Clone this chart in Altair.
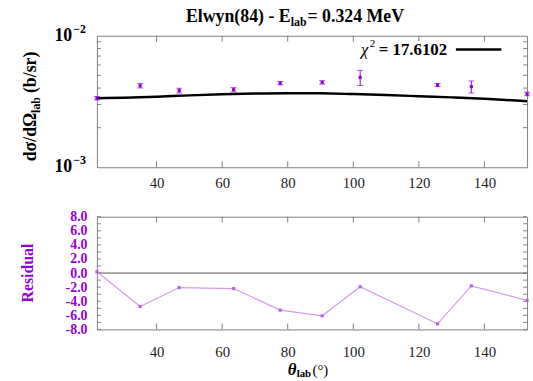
import altair as alt
import pandas as pd

# ---------------- data ----------------
theta = [21.8, 35.0, 46.9, 63.5, 77.7, 90.5, 102.1, 125.7, 136.0, 153.0]
xsec = [3.35e-3, 4.17e-3, 3.83e-3, 3.89e-3, 4.36e-3, 4.42e-3, 4.82e-3, 4.22e-3, 4.10e-3, 3.61e-3]
xerr = [0.10e-3, 0.16e-3, 0.16e-3, 0.14e-3, 0.13e-3, 0.13e-3, 0.63e-3, 0.11e-3, 0.43e-3, 0.11e-3]
resid = [0.2, -4.74, -2.06, -2.2, -5.26, -6.07, -1.95, -7.2, -1.82, -3.88]

curve_theta = [21.8, 30, 40, 50, 60, 70, 80, 90, 100, 110, 120, 130, 140, 153]
curve_xsec = [3.35e-3, 3.38e-3, 3.44e-3, 3.52e-3, 3.59e-3, 3.64e-3, 3.66e-3, 3.65e-3,
              3.60e-3, 3.54e-3, 3.47e-3, 3.40e-3, 3.32e-3, 3.18e-3]

x_ticks = [40, 60, 80, 100, 120, 140]
y_minor = [2e-3, 3e-3, 4e-3, 5e-3, 6e-3, 7e-3, 8e-3, 9e-3]
y_major = [1e-2, 1e-3]
y_major_sup = ["\u22122", "\u22123"]
r_labels = [-8, -6, -4, -2, 0, 2, 4, 6, 8]
r_ticks = list(range(-8, 9))

chi2_text = "= 17.6102"

# ---------------- style ----------------
FONT = "Liberation Serif, Times New Roman, serif"
PURPLE = "#9400D3"
W, H1, H2 = 435, 133, 114
XDOM = [21.8, 153.0]

df = pd.DataFrame({"theta": theta, "xs": xsec, "err": xerr, "res": resid})
df["lo"] = df["xs"] - df["err"]
df["hi"] = df["xs"] + df["err"]
cdf = pd.DataFrame({"theta": curve_theta, "xs": curve_xsec})

xscale = alt.Scale(domain=XDOM, nice=False, zero=False)
yscale = alt.Scale(type="log", domain=[1e-3, 1e-2], nice=False)
rscale = alt.Scale(domain=[-8, 8], nice=False, zero=False)


def xaxis(pad):
    return alt.Axis(values=x_ticks, labelFont=FONT, labelFontSize=15, labelColor="#222",
                    ticks=False, tickSize=0, domain=False, grid=False,
                    labelPadding=pad, labelFlush=False, labelOverlap=False, title=None)


def X(field, pad):
    return alt.X(field, type="quantitative", scale=xscale, axis=xaxis(pad), title=None)


def one(**kw):
    return alt.Chart(pd.DataFrame({"k": [0], **{k: [v] for k, v in kw.items()}}))


def label(text, x, y, size, weight="normal", style="normal", align="left", angle=0,
          color="black"):
    return one(t=text).mark_text(
        font=FONT, fontSize=size, fontWeight=weight, fontStyle=style, align=align,
        baseline="middle", angle=angle, color=color
    ).encode(text="t:N", x=alt.value(x), y=alt.value(y))


# ---------------- top panel ----------------
anchor = one().mark_rect(color="white").encode(
    x=alt.value(-97), x2=alt.value(-96), y=alt.value(-33), y2=alt.value(-32))

curve = alt.Chart(cdf).mark_line(color="black", strokeWidth=2.5, interpolate="monotone").encode(
    x=X("theta", 8), y=alt.Y("xs:Q", scale=yscale, axis=None))

bars = alt.Chart(df).mark_rule(color=PURPLE, strokeWidth=1).encode(
    x=X("theta", 8), y=alt.Y("lo:Q", scale=yscale, axis=None), y2="hi:Q")
cap_lo = alt.Chart(df).mark_tick(color=PURPLE, size=6, thickness=1, orient="horizontal").encode(
    x=X("theta", 8), y=alt.Y("lo:Q", scale=yscale, axis=None))
cap_hi = alt.Chart(df).mark_tick(color=PURPLE, size=6, thickness=1, orient="horizontal").encode(
    x=X("theta", 8), y=alt.Y("hi:Q", scale=yscale, axis=None))
pts = alt.Chart(df).mark_square(color=PURPLE, size=10, opacity=1).encode(
    x=X("theta", 8), y=alt.Y("xs:Q", scale=yscale, axis=None))

ydf = pd.DataFrame({"v": y_minor})
yt_l = alt.Chart(ydf).mark_rule(color="#7f7f7f").encode(
    y=alt.Y("v:Q", scale=yscale, axis=None), x=alt.value(0), x2=alt.value(4))
yt_r = alt.Chart(ydf).mark_rule(color="#7f7f7f").encode(
    y=alt.Y("v:Q", scale=yscale, axis=None), x=alt.value(W), x2=alt.value(W - 4))
xdf = pd.DataFrame({"t": x_ticks})
xt_b1 = alt.Chart(xdf).mark_rule(color="#7f7f7f").encode(
    x=X("t", 8), y=alt.value(H1), y2=alt.value(H1 - 6))
xt_t1 = alt.Chart(xdf).mark_rule(color="#7f7f7f").encode(
    x=X("t", 8), y=alt.value(0), y2=alt.value(6))

mdf = pd.DataFrame({"v": y_major, "t": ["10", "10"], "s": y_major_sup})
ylab10 = alt.Chart(mdf).mark_text(font=FONT, fontSize=18, fontWeight="bold", align="right",
                                  baseline="middle", color="black").encode(
    y=alt.Y("v:Q", scale=yscale, axis=None), x=alt.value(-25), text="t:N")
ylabsup = alt.Chart(mdf).mark_text(font=FONT, fontSize=12, fontWeight="bold", align="left",
                                   baseline="middle", dy=-7, color="black").encode(
    y=alt.Y("v:Q", scale=yscale, axis=None), x=alt.value(-24), text="s:N")

title1 = label("Elwyn(84) - E", 90, -19, 18, weight="bold")
title2 = label("lab", 196, -14, 12, weight="bold")
title3 = label("= 0.324 MeV", 213, -19, 18, weight="bold")

ytit1 = label("dσ/dΩ", -67, 127, 18, weight="bold", angle=270)
ytit2 = label("lab", -62, 78, 12, weight="bold", angle=270)
ytit3 = label("(b/sr)", -67, 58, 18, weight="bold", angle=270)

leg1 = label("χ", 267, 14, 17, style="italic")
leg2 = label("2", 276, 8, 11)
leg3 = label(chi2_text, 285, 14, 17, weight="bold")
legline = one().mark_rule(color="black", strokeWidth=2.5).encode(
    x=alt.value(363), x2=alt.value(409), y=alt.value(14))

top = alt.layer(
    anchor, yt_l, yt_r, xt_b1, xt_t1, curve, bars, cap_lo, cap_hi, pts,
    ylab10, ylabsup, title1, title2, title3, ytit1, ytit2, ytit3,
    leg1, leg2, leg3, legline
).properties(width=W, height=H1)

# ---------------- residual panel ----------------
raxis = alt.Axis(values=r_labels, labelExpr="replace(format(datum.value, '.1f'), '\u2212', '-')",
                 labelFont=FONT, labelFontSize=14, labelFontWeight="bold", labelColor=PURPLE,
                 ticks=False, tickSize=0, domain=False, grid=False, labelPadding=10,
                 labelOverlap=False, labelFlush=False, title=None)

zero = one(z=0).mark_rule(color="#555555", strokeWidth=1).encode(
    y=alt.Y("z:Q", scale=rscale, axis=raxis))
rline = alt.Chart(df).mark_line(color="#D49BF2", strokeWidth=1.2).encode(
    x=X("theta", 15), y=alt.Y("res:Q", scale=rscale, axis=raxis))
rpts = alt.Chart(df).mark_square(color="#B45FE6", size=10, opacity=1).encode(
    x=X("theta", 15), y=alt.Y("res:Q", scale=rscale, axis=raxis))

rdf = pd.DataFrame({"v": r_ticks})
rt_l = alt.Chart(rdf).mark_rule(color="#7f7f7f").encode(
    y=alt.Y("v:Q", scale=rscale, axis=raxis), x=alt.value(0), x2=alt.value(4))
rt_r = alt.Chart(rdf).mark_rule(color="#7f7f7f").encode(
    y=alt.Y("v:Q", scale=rscale, axis=raxis), x=alt.value(W), x2=alt.value(W - 4))
xt_b2 = alt.Chart(xdf).mark_rule(color="#7f7f7f").encode(
    x=X("t", 15), y=alt.value(H2), y2=alt.value(H2 - 6))
xt_t2 = alt.Chart(xdf).mark_rule(color="#7f7f7f").encode(
    x=X("t", 15), y=alt.value(0), y2=alt.value(6))

rtitle = label("Residual", -70, H2 / 2, 16, weight="bold", align="center", angle=270,
               color=PURPLE)
xtit1 = label("θ", 193, 155, 17, weight="bold", style="italic")
xtit2 = label("lab", 202, 159, 11, weight="bold")
xtit3 = label("(°)", 218, 155, 15)

bottom = alt.layer(
    rt_l, rt_r, xt_b2, xt_t2, zero, rline, rpts, rtitle, xtit1, xtit2, xtit3
).properties(width=W, height=H2)

chart = alt.vconcat(top, bottom, spacing=50, bounds="flush").properties(
    padding=0, background="white"
).configure_view(stroke="#7f7f7f", strokeWidth=1)

chart.save("out.html", embed_options={"renderer": "svg", "actions": False})
